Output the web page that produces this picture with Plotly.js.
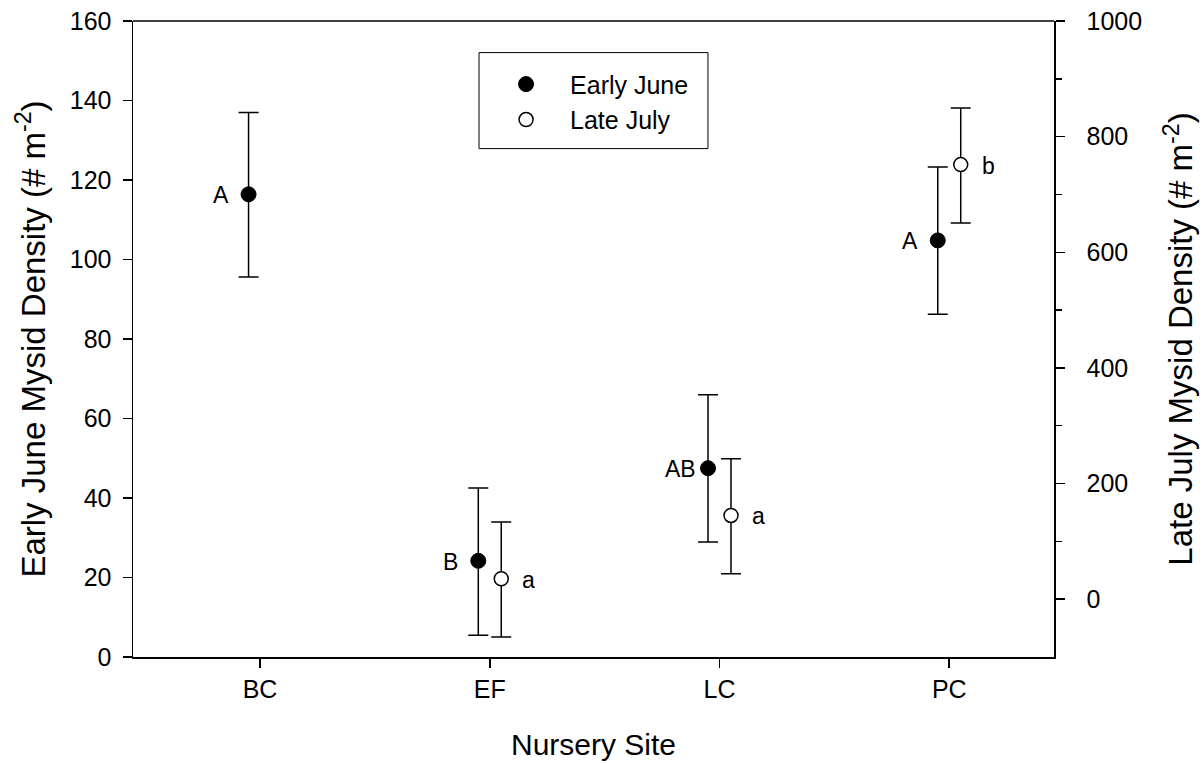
<!DOCTYPE html>
<html>
<head>
<meta charset="utf-8">
<script src="https://cdn.plot.ly/plotly-3.0.1.min.js"></script>
<style>html,body{margin:0;padding:0;background:#fff;}#chart{width:1202px;height:763px;}</style>
</head>
<body>
<div id="chart"></div>
<script>
// ---- data ----
const sites = ["BC", "EF", "LC", "PC"];

const juneMean = [116.4, 24.2, 47.5, 104.8];
const juneErrPlus = [20.6, 18.3, 18.5, 18.5];
const juneErrMinus = [20.8, 18.7, 18.6, 18.6];
const juneLetters = ["A", "B", "AB", "A"];

const julyMean = [null, 35.4, 144.9, 751.6];
const julyErrPlus = [null, 97.9, 98.0, 98.0];
const julyErrMinus = [null, 100.9, 100.8, 100.8];
const julyLetters = [null, "a", "a", "b"];

// ---- style ----
const FONT = "Liberation Sans, Arial, sans-serif";
const pos = sites.map((s, i) => i + 1);
const off = 0.05;
const juneX = pos.map(p => p - off);
const julyX = pos.map(p => p + off);

const errStyle = {type: "data", symmetric: false, color: "#000", thickness: 1.5, width: 10};

const traces = [
  {
    x: juneX, y: juneMean, type: "scatter", mode: "markers", name: "Early June",
    marker: {symbol: "circle", size: 15, color: "#000", line: {color: "#000", width: 1}},
    error_y: Object.assign({array: juneErrPlus, arrayminus: juneErrMinus}, errStyle),
    yaxis: "y"
  },
  {
    x: julyX, y: julyMean, type: "scatter", mode: "markers", name: "Late July",
    marker: {symbol: "circle", size: 14, color: "#fff", line: {color: "#000", width: 1.5}},
    error_y: Object.assign({array: julyErrPlus, arrayminus: julyErrMinus}, errStyle),
    yaxis: "y2"
  }
];

const annotations = [];
juneLetters.forEach((t, i) => {
  if (!t) return;
  annotations.push({
    x: juneX[i], y: juneMean[i], xref: "x", yref: "y", text: t, showarrow: false,
    xanchor: "right", yanchor: "middle", xshift: t.length > 1 ? -10 : -18, yshift: -1,
    font: {family: FONT, size: 23, color: "#000"}
  });
});
julyLetters.forEach((t, i) => {
  if (!t) return;
  annotations.push({
    x: julyX[i], y: julyMean[i], xref: "x", yref: "y2", text: t, showarrow: false,
    xanchor: "left", yanchor: "middle", xshift: 19, yshift: -1,
    font: {family: FONT, size: 23, color: "#000"}
  });
});

const axisCommon = {
  showgrid: false, zeroline: false, showline: true, linecolor: "#000", linewidth: 1.5,
  ticks: "outside", ticklen: 9, tickwidth: 1.5, tickcolor: "#000",
  tickfont: {family: FONT, size: 25, color: "#000"}
};

const layout = {
  width: 1202, height: 763,
  margin: {l: 133, r: 148, t: 21, b: 106, pad: 0},
  paper_bgcolor: "#fff", plot_bgcolor: "#fff",
  font: {family: FONT, color: "#000"},
  showlegend: true,
  legend: {
    x: 0.379, y: 0.9366, xanchor: "left", yanchor: "top",
    bgcolor: "rgba(0,0,0,0)", borderwidth: 0,
    font: {family: FONT, size: 25, color: "#000"},
    itemwidth: 78
  },
  xaxis: Object.assign({}, axisCommon, {
    range: [0.447, 4.456], tickmode: "array", tickvals: pos, ticktext: sites,
    mirror: false,
    title: {text: "Nursery Site", font: {family: FONT, size: 30, color: "#000"}, standoff: 32}
  }),
  yaxis: Object.assign({}, axisCommon, {
    range: [0, 160], dtick: 20, tick0: 0, ticklabelstandoff: 6,
    title: {text: "Early June Mysid Density (# m<sup>-2</sup>)", font: {family: FONT, size: 33, color: "#000"}, standoff: 14}
  }),
  yaxis2: Object.assign({}, axisCommon, {
    range: [-100, 1000], tickmode: "array", tickvals: [0, 200, 400, 600, 800, 1000],
    overlaying: "y", side: "right", ticklabelstandoff: 17,
    minor: {tickmode: "array", tickvals: [100, 300, 500, 700, 900], ticks: "outside", ticklen: 6, tickwidth: 1.5, tickcolor: "#000"},
    title: {text: "Late July Mysid Density (# m<sup>-2</sup>)", font: {family: FONT, size: 33, color: "#000"}, standoff: 28}
  }),
  shapes: [
    // top frame line
    {type: "line", xref: "paper", yref: "paper", x0: 0, x1: 1, y0: 1, y1: 1, line: {color: "#000", width: 1.5}},
    // legend box
    {type: "rect", xref: "paper", yref: "paper", x0: 0.3757, x1: 0.6243, y0: 0.7994, y1: 0.9503,
     line: {color: "#000", width: 1}, fillcolor: "rgba(0,0,0,0)"}
  ],
  annotations: annotations
};

Plotly.newPlot("chart", traces, layout, {displayModeBar: false, staticPlot: true});
</script>
</body>
</html>
